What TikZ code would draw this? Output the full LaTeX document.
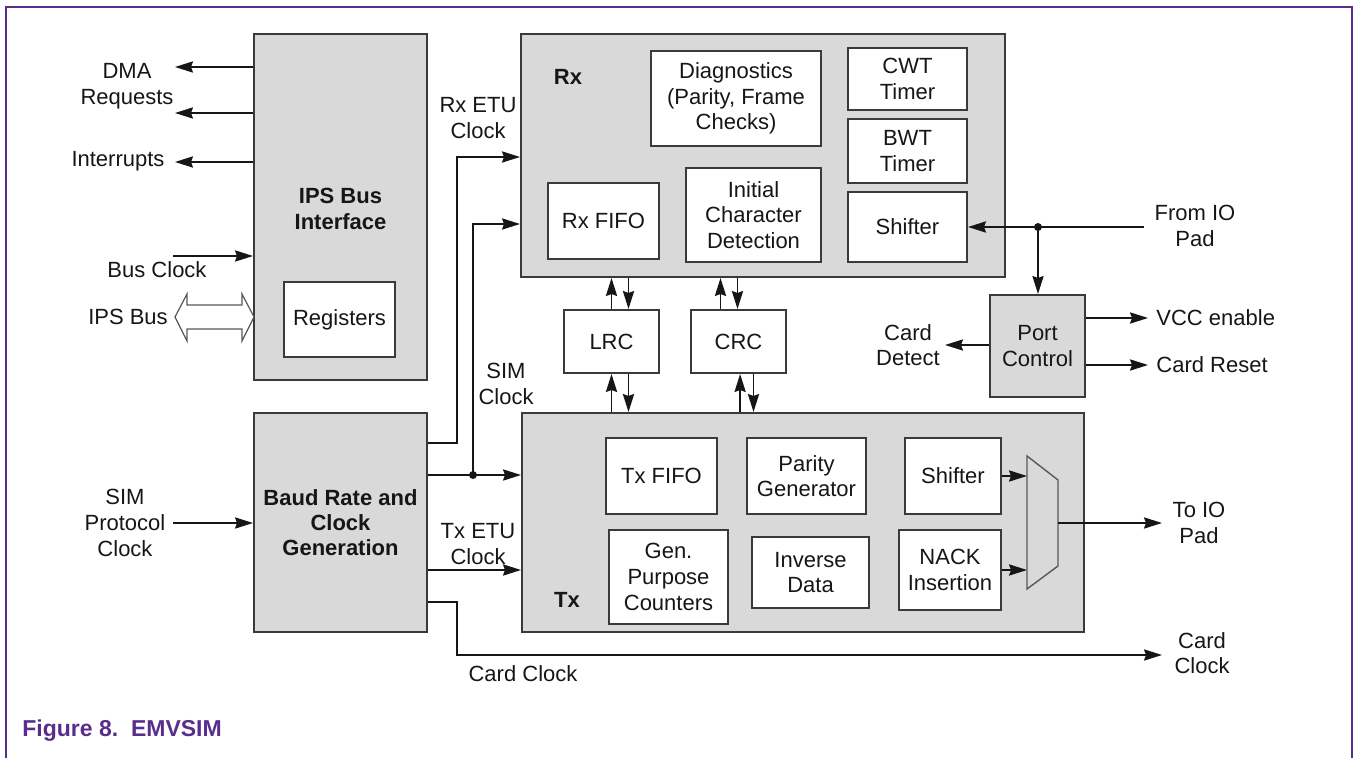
\documentclass[tikz,border=0pt]{standalone}
\usepackage{fontspec}
\setmainfont{Liberation Sans}
\usetikzlibrary{arrows.meta,fit}
\definecolor{framecol}{HTML}{5A2D8C}
\definecolor{blockgray}{HTML}{D9D9D9}
\definecolor{edge}{HTML}{3A3A3A}
\definecolor{ink}{HTML}{161616}
\begin{document}
\begin{tikzpicture}[x=0.5pt,y=-0.5pt,
  every node/.style={font=\fontsize{11}{12.8}\selectfont, text=ink, align=center, inner sep=0pt},
  graybox/.style={draw=edge, fill=blockgray, line width=1pt},
  whitebox/.style={draw=edge, fill=white, line width=1pt},
  boldtxt/.style={font=\fontsize{11}{12.6}\selectfont\bfseries},
  conn/.style={draw=ink, line width=0.85pt},
  arr/.style={conn, -{Stealth[length=9pt,width=5.6pt,inset=1pt]}},
  junction/.style={fill=ink}
]
\useasboundingbox (0,0) rectangle (1354,758);
% frame
\draw[framecol, line width=1.2pt] (6,758) -- (6,7) -- (1352,7) -- (1352,758);
\node[anchor=base west, font=\fontsize{11.5}{13}\selectfont\bfseries, text=framecol] (caption) at (22,736) {Figure 8.\ \ EMVSIM};

% main blocks
\node[graybox, fit={(254,34) (427,380)}] (ips) {};
\node[boldtxt] (ipsT) at ([yshift=-1pt]ips.center) {IPS Bus\\Interface};
\node[whitebox, fit={(284,282) (395,357)}] (regs) {};
\node (regsT) at (regs.center) {Registers};
\node[graybox, fit={(254,413) (427,632)}] (baud) {};
\node[boldtxt] (baudT) at (baud.center) {Baud Rate and\\Clock\\Generation};
\node[graybox, fit={(521,34) (1005,277)}] (rx) {};
\node[graybox, fit={(522,413) (1084,632)}] (tx) {};
\node[graybox, fit={(990,295) (1085,397)}] (port) {};
\node (portT) at (port.center) {Port\\Control};

% Rx internals
\node[boldtxt] (rxlbl) at (568,77) {Rx};
\node[whitebox, fit={(651,51) (821,146)}] (diag) {};
\node (diagT) at (diag.center) {Diagnostics\\(Parity, Frame\\Checks)};
\node[whitebox, fit={(848,48) (967,110)}] (cwt) {};
\node (cwtT) at (cwt.center) {CWT\\Timer};
\node[whitebox, fit={(848,119) (967,183)}] (bwt) {};
\node (bwtT) at (bwt.center) {BWT\\Timer};
\node[whitebox, fit={(848,192) (967,262)}] (rxshift) {};
\node (rxshiftT) at (rxshift.center) {Shifter};
\node[whitebox, fit={(548,183) (659,259)}] (rxfifo) {};
\node (rxfifoT) at (rxfifo.center) {Rx FIFO};
\node[whitebox, fit={(686,168) (821,262)}] (icd) {};
\node (icdT) at (icd.center) {Initial\\Character\\Detection};

% LRC / CRC
\node[whitebox, fit={(564,310) (659,373)}] (lrc) {};
\node (lrcT) at (lrc.center) {LRC};
\node[whitebox, fit={(691,310) (786,373)}] (crc) {};
\node (crcT) at (crc.center) {CRC};

% Tx internals
\node[boldtxt] (txlbl) at (567,600) {Tx};
\node[whitebox, fit={(606,438) (717,514)}] (txfifo) {};
\node (txfifoT) at (txfifo.center) {Tx FIFO};
\node[whitebox, fit={(747,438) (866,514)}] (parity) {};
\node (parityT) at (parity.center) {Parity\\Generator};
\node[whitebox, fit={(905,438) (1001,514)}] (txshift) {};
\node (txshiftT) at (txshift.center) {Shifter};
\node[whitebox, fit={(609,530) (728,624)}] (gpc) {};
\node (gpcT) at (gpc.center) {Gen.\\Purpose\\Counters};
\node[whitebox, fit={(752,537) (869,608)}] (inv) {};
\node (invT) at (inv.center) {Inverse\\Data};
\node[whitebox, fit={(899,530) (1001,610)}] (nack) {};
\node (nackT) at (nack.center) {NACK\\Insertion};

% mux
\coordinate (muxTL) at (1027,456);
\coordinate (muxTR) at (1058,480);
\coordinate (muxBR) at (1058,566);
\coordinate (muxBL) at (1027,589);
\draw[draw=edge!85, line width=0.7pt] (muxTL) -- (muxTR) -- (muxBR) -- (muxBL) -- cycle;

% outside labels
\node (lDMA) at (127,86) {DMA\\Requests};
\node (lInt) at (118,161) {Interrupts};
\node (lBusClk) at (157,270) {Bus Clock};
\node (lIPSBus) at (128,317) {IPS Bus};
\node (lSimProto) at (125,523) {SIM\\Protocol\\Clock};
\node (lRxEtu) at (478,118) {Rx ETU\\Clock};
\node (lSimClk) at (506,384) {SIM\\Clock};
\node (lTxEtu) at (478,544) {Tx ETU\\Clock};
\node (lCardClkB) at (523,674) {Card Clock};
\node (lFromIO) at (1195,226) {From IO\\Pad};
\node[anchor=west] (lVcc) at (1156,318) {VCC enable};
\node[anchor=west] (lReset) at (1156,365) {Card Reset};
\node (lDetect) at (908,345) {Card\\Detect};
\node (lToIO) at (1199,523) {To IO\\Pad};
\node (lCardClkR) at (1202,653) {Card\\Clock};

% free ends
\coordinate (dmaA) at (175,67);
\coordinate (dmaB) at (175,113);
\coordinate (intr) at (175,162);
\coordinate (busclk) at (173,256);
\coordinate (simproto) at (173,523);
\coordinate (rxetuLow) at (457,443);
\coordinate (rxetuHigh) at (457,157);
\coordinate (simdot) at (473,475);
\coordinate (simup) at (473,224);
\coordinate (txetu) at (440,570);
\coordinate (cc1) at (457,602);
\coordinate (cc2) at (457,655);
\coordinate (ccEnd) at (1162,655);
\coordinate (fromio) at (1144,227);
\coordinate (iodot) at (1038,227);
\coordinate (vcc) at (1148,318);
\coordinate (creset) at (1148,365);
\coordinate (cdet) at (945,345);
\coordinate (muxout) at (1058,523);
\coordinate (toio) at (1162,523);

% IPS side arrows
\draw[arr] (ips.west |- dmaA) -- (dmaA);
\draw[arr] (ips.west |- dmaB) -- (dmaB);
\draw[arr] (ips.west |- intr) -- (intr);
\draw[arr] (busclk) -- (busclk -| ips.west);
\draw[draw=edge!85, fill=white, line width=0.6pt]
  (175,317) -- (187,294) -- (187,305) -- (242,305) -- (242,294) -- (254,317)
  -- (242,341) -- (242,329) -- (187,329) -- (187,341) -- cycle;
\draw[arr] (simproto) -- (simproto -| baud.west);

% clocks from baud
\draw[arr] (baud.east |- rxetuLow) -- (rxetuLow) -- (rxetuHigh) -- (rx.west |- rxetuHigh);
\draw[arr] (baud.east |- simdot) -- (tx.west |- simdot);
\draw[arr] (simdot) -- (simup) -- (rx.west |- simup);
\fill[junction] (simdot) circle (2pt);
\draw[arr] (baud.east |- txetu) -- (tx.west |- txetu);
\draw[arr] (baud.east |- cc1) -- (cc1) -- (cc2) -- (ccEnd);

% Rx/Tx <-> LRC/CRC
\draw[arr] (lrc.north) -- (lrc.north |- rx.south);
\draw[arr] ([xshift=8.5pt]lrc.north |- rx.south) -- ([xshift=8.5pt]lrc.north);
\draw[arr] (lrc.south |- tx.north) -- (lrc.south);
\draw[arr] ([xshift=8.5pt]lrc.south) -- ([xshift=8.5pt]lrc.south |- tx.north);
\draw[arr] ([xshift=-9pt]crc.north) -- ([xshift=-9pt]crc.north |- rx.south);
\draw[arr] ([xshift=-0.5pt]crc.north |- rx.south) -- ([xshift=-0.5pt]crc.north);
\draw[arr] ([xshift=0.8pt]crc.south |- tx.north) -- ([xshift=0.8pt]crc.south);
\draw[arr] ([xshift=7.5pt]crc.south) -- ([xshift=7.5pt]crc.south |- tx.north);

% IO pad and port control
\draw[arr] (fromio) -- (rxshift.east |- fromio);
\draw[arr] (iodot) -- (iodot |- port.north);
\fill[junction] (iodot) circle (2pt);
\draw[arr] (port.east |- vcc) -- (vcc);
\draw[arr] (port.east |- creset) -- (creset);
\draw[arr] (port.west |- cdet) -- (cdet);

% Tx to mux and out
\draw[arr] (txshift.east) -- (txshift.east -| muxTL);
\draw[arr] (nack.east) -- (nack.east -| muxTL);
\draw[arr] (muxout) -- (toio);
\end{tikzpicture}
\end{document}
